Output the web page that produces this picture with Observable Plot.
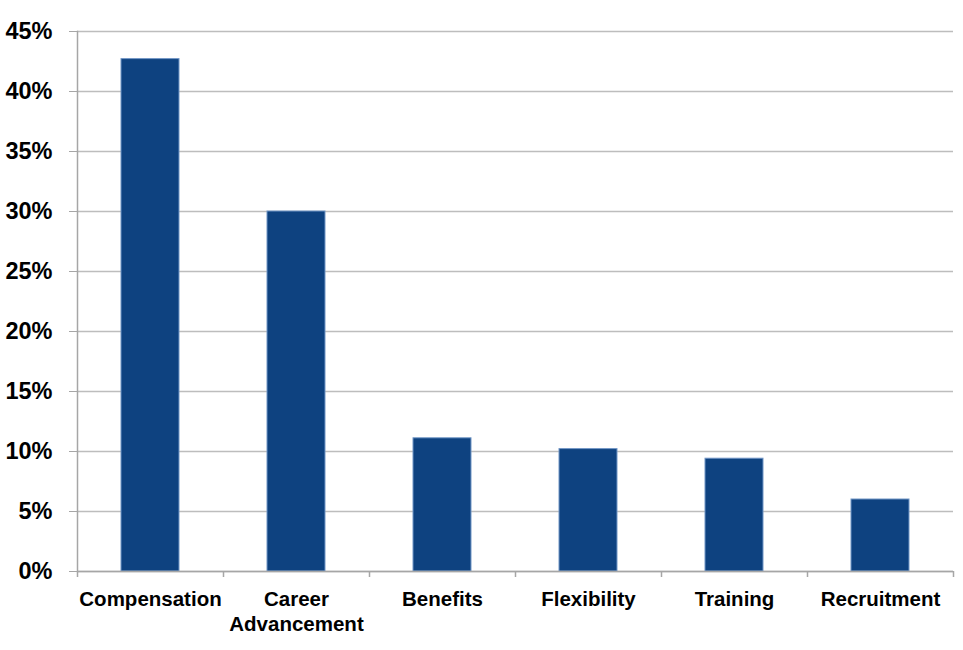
<!DOCTYPE html>
<html>
<head>
<meta charset="utf-8">
<script src="https://cdn.jsdelivr.net/npm/d3@7"></script>
<script src="https://cdn.jsdelivr.net/npm/@observablehq/plot@0.6"></script>
<style>
  html, body { margin: 0; padding: 0; background: #fff; }
  #chart svg { display: block; }
</style>
</head>
<body>
<div id="chart"></div>
<script>
const categories = ["Compensation", "Career Advancement", "Benefits", "Flexibility", "Training", "Recruitment"];
const values = [42.7, 30.0, 11.1, 10.2, 9.4, 6.0];
const yTicks = [0, 5, 10, 15, 20, 25, 30, 35, 40, 45];

const data = categories.map((c, i) => ({category: c, value: values[i]}));

const chart = Plot.plot({
  width: 963,
  height: 650,
  marginLeft: 77,
  marginRight: 10,
  marginTop: 31,
  marginBottom: 79,
  style: {fontFamily: "'Liberation Sans', Arial, sans-serif", background: "#fff", color: "#000"},
  x: {domain: categories, paddingInner: 0.6, paddingOuter: 0.3, label: null},
  y: {domain: [0, 45], label: null},
  marks: [
    Plot.gridY(yTicks, {stroke: "#bdbdbd", strokeOpacity: 1, strokeWidth: 1.5}),
    Plot.axisY(yTicks, {
      tickFormat: d => d + "%",
      tickSize: 8,
      tickPadding: 17,
      stroke: "#a6a6a6",
      fontSize: 23.5,
      fontWeight: "bold",
      fill: "#000",
      label: null
    }),
    Plot.axisX({
      tickSize: 0,
      tickPadding: 17,
      fontSize: 20.5,
      fontWeight: "bold",
      fill: "#000",
      lineHeight: 1.22,
      tickFormat: d => d.replace(" ", "\n"),
      label: null
    }),
    Plot.barY(data, {x: "category", y: "value", fill: "#0e4280", stroke: "#7196c6", strokeWidth: 1}),
    Plot.ruleY([0], {stroke: "#a6a6a6", strokeWidth: 1.5}),
    Plot.frame({anchor: "left", stroke: "#a6a6a6", strokeWidth: 1.5}),
    Plot.ruleX(categories, {x: d => d, dx: -73, y1: 0, y2: 0, insetBottom: -6, stroke: "#a6a6a6", strokeWidth: 1.5}),
    Plot.ruleX(categories.slice(-1), {x: d => d, dx: 73, y1: 0, y2: 0, insetBottom: -6, stroke: "#a6a6a6", strokeWidth: 1.5})
  ]
});

document.getElementById("chart").appendChild(chart);
</script>
</body>
</html>
